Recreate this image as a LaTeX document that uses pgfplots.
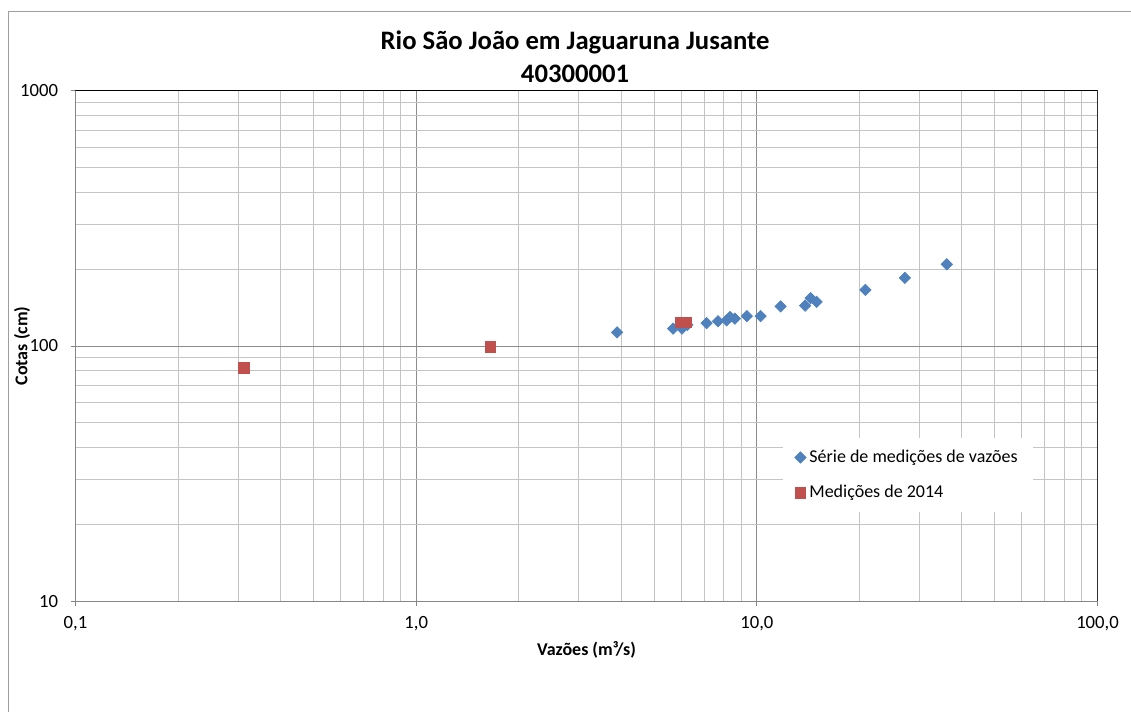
\documentclass[border=0pt]{standalone}
\usepackage{pgfplots}
\pgfplotsset{compat=1.18}
\usepackage{fontspec}
\setmainfont{Carlito}
\definecolor{serblue}{HTML}{4F81BD}
\definecolor{serred}{HTML}{C0504D}
\definecolor{majgrid}{HTML}{8C8C8C}
\definecolor{mingrid}{HTML}{C4C4C4}
\definecolor{axgray}{HTML}{868686}
\begin{document}
\begin{tikzpicture}
\useasboundingbox (-45.3pt,-66pt) rectangle (633.3pt,360.6pt);
\draw[black!38, line width=0.6pt] (-40.2pt,-70pt) -- (-40.2pt,353.7pt) -- (640pt,353.7pt);
\begin{axis}[
  at={(0pt,0pt)}, anchor=south west,
  scale only axis, width=613.2pt, height=306pt,
  xmode=log, ymode=log,
  xmin=0.1, xmax=100, ymin=10, ymax=1000,
  xtick={0.1,1,10,100}, xticklabels={{0,1},{1,0},{10,0},{100,0}},
  ytick={10,100,1000}, yticklabels={10,100,1000},
  grid=both,
  major grid style={draw=majgrid, line width=0.6pt},
  minor grid style={draw=mingrid, line width=0.6pt},
  axis line style={draw=axgray, line width=0.6pt},
  tick align=outside, tick pos=left,
  major tick length=3pt, minor tick length=0pt,
  tick style={draw=axgray, line width=0.6pt},
  ticklabel style={font=\fontsize{11.2}{13}\selectfont},
  yticklabel style={xshift=-4pt},
  xticklabel style={yshift=-2.5pt},
  xlabel={Vazões (m³/s)}, ylabel={Cotas (cm)},
  xlabel style={at={(axis description cs:0.5,-0.096)}, anchor=center, font=\bfseries\fontsize{10.8}{13}\selectfont},
  ylabel style={at={(axis description cs:-0.0523,0.5)}, anchor=center, rotate=0, font=\bfseries\fontsize{10.8}{13}\selectfont},
  title={Rio São João em Jaguaruna Jusante\\40300001},
  title style={at={(axis description cs:0.4888,1.048)}, anchor=center, align=center, font=\bfseries\fontsize{16}{19.8}\selectfont},
  legend style={at={(axis description cs:0.692,0.3196)}, anchor=north west, draw=none, fill=white,
    font=\fontsize{10.8}{13}\selectfont, row sep=8pt, inner xsep=7pt, inner ysep=5pt},
  legend cell align=left,
  legend image code/.code={\draw[mark repeat=2,mark phase=2,#1] plot coordinates {(0cm,0cm) (0.1cm,0cm) (0.2cm,0cm)};},
]
\addplot[only marks, mark=square*, mark size=2.4pt, color=serblue, mark options={fill=serblue, draw=serblue, rotate=45}] coordinates {
(3.89,113) (5.68,117) (6.03,117) (6.25,121) (7.12,123) (7.69,125) (8.15,126) (8.34,130) (8.62,128)
(9.35,131) (10.26,131) (11.74,143) (13.87,144) (14.38,154) (14.98,149) (20.84,166) (27.2,185) (36.1,209)
};
\addlegendentry{Série de medições de vazões}
\addplot[only marks, mark=square*, mark size=3.2pt, color=serred, mark options={fill=serred, draw=serred}] coordinates {
(0.312,82) (1.65,99) (5.97,124) (6.19,124)
};
\addlegendentry{Medições de 2014}
\draw[black, line width=0.6pt] (rel axis cs:0,1) -- (rel axis cs:1,1) -- (rel axis cs:1,0);
\end{axis}
\end{tikzpicture}
\end{document}
